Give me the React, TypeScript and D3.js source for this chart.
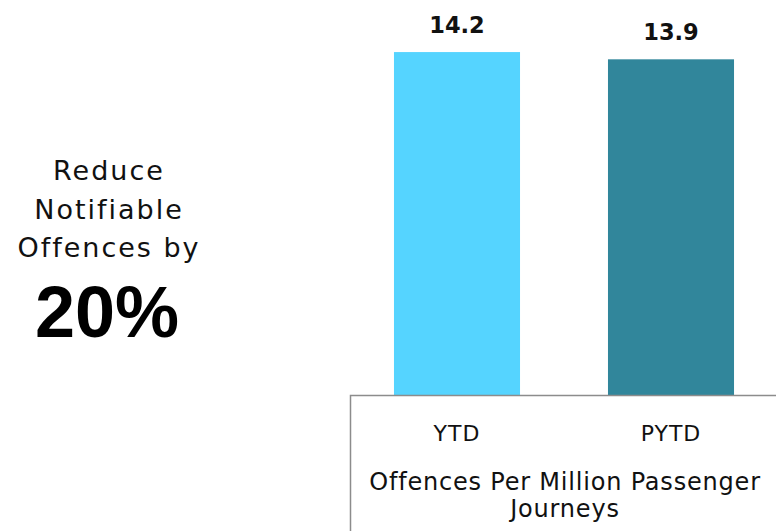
import React from "react";
import * as d3 from "d3";

const categories = ["YTD", "PYTD"];
const values = [14.2, 13.9];
const labels = ["14.2", "13.9"];
const barColors = ["#55D4FF", "#31869B"];
const axisTitleLines = ["Offences Per Million Passenger", "Journeys"];
const goalLines = ["Reduce", "Notifiable", "Offences by"];
const goalValue = "20%";

const W = 776;
const H = 531;
const FONT = "'DejaVu Sans', sans-serif";

export default function App() {
  const baseY = 395;
  const x = d3
    .scaleBand<string>()
    .domain(categories)
    .range([350, 778])
    .paddingInner(0.411)
    .paddingOuter(0.2055);
  const y = d3.scaleLinear().domain([0, 16]).range([baseY, baseY - 16 * 24.15]);

  return (
    <svg
      width={W}
      height={H}
      style={{ position: "fixed", left: 0, top: 0, background: "#fff" }}
      fontFamily={FONT}
    >
      <rect width={W} height={H} fill="#fff" />
      {/* goal text */}
      {goalLines.map((t, i) => (
        <text
          key={t}
          x={109}
          y={180 + i * 38.5}
          textAnchor="middle"
          fontSize={27}
          letterSpacing={2}
          fill="#111"
        >
          {t}
        </text>
      ))}
      <text
        x={107}
        y={337}
        textAnchor="middle"
        fontSize={72}
        fontWeight="bold"
        fontFamily="'Liberation Sans', Arial, sans-serif"
        fill="#000"
      >
        {goalValue}
      </text>

      {/* bars */}
      {categories.map((c, i) => (
        <g key={c}>
          <rect
            x={x(c)}
            y={y(values[i])}
            width={x.bandwidth()}
            height={baseY - y(values[i])}
            fill={barColors[i]}
          />
          <text
            x={(x(c) as number) + x.bandwidth() / 2}
            y={y(values[i]) - 19}
            textAnchor="middle"
            fontSize={22.5}
            fontWeight="bold"
            fill="#111"
          >
            {labels[i]}
          </text>
          <text
            x={(x(c) as number) + x.bandwidth() / 2}
            y={441}
            textAnchor="middle"
            fontSize={22}
            letterSpacing={1}
            fill="#111"
          >
            {c}
          </text>
        </g>
      ))}

      {/* axis box */}
      <path d={`M350.5,${H} V${baseY + 0.5} H${W}`} fill="none" stroke="#8c8c8c" strokeWidth={1.5} />
      {axisTitleLines.map((t, i) => (
        <text
          key={t}
          x={565}
          y={490 + i * 27}
          textAnchor="middle"
          fontSize={24}
          letterSpacing={0.8}
          fill="#111"
        >
          {t}
        </text>
      ))}
    </svg>
  );
}
